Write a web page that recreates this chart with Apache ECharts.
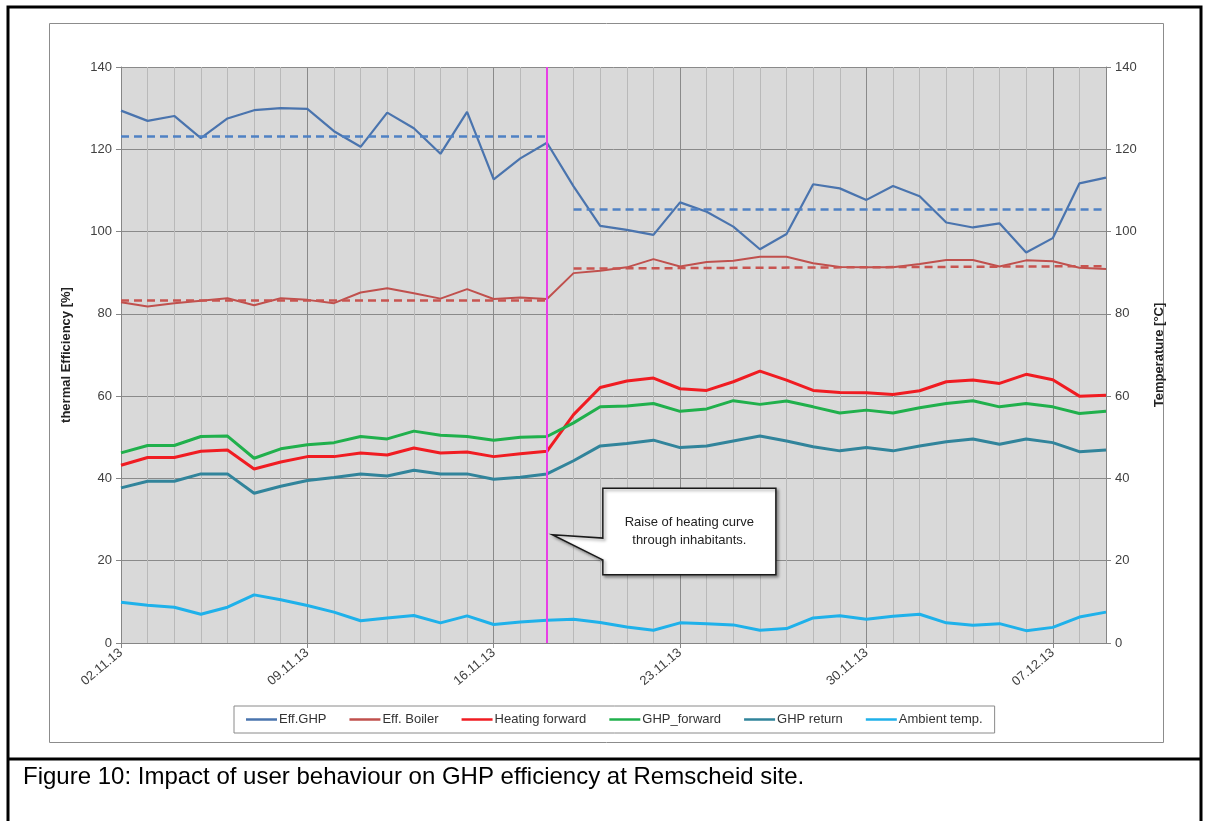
<!DOCTYPE html>
<html>
<head>
<meta charset="utf-8">
<title>GHP efficiency at Remscheid site</title>
<script src="https://cdn.jsdelivr.net/npm/echarts@6/dist/echarts.min.js"></script>
<style>
  html, body { margin: 0; padding: 0; background: #ffffff; }
  #chart { width: 1205px; height: 821px; }
</style>
</head>
<body>
<div id="chart"></div>
<script>
// Daily values, 02.11.13 - 09.12.13
const dates = [
  '02.11.13','03.11.13','04.11.13','05.11.13','06.11.13','07.11.13','08.11.13',
  '09.11.13','10.11.13','11.11.13','12.11.13','13.11.13','14.11.13','15.11.13',
  '16.11.13','17.11.13','18.11.13','19.11.13','20.11.13','21.11.13','22.11.13',
  '23.11.13','24.11.13','25.11.13','26.11.13','27.11.13','28.11.13','29.11.13',
  '30.11.13','01.12.13','02.12.13','03.12.13','04.12.13','05.12.13','06.12.13',
  '07.12.13','08.12.13','09.12.13'
];

// thermal efficiency [%]
const effGHP = [129.4,126.9,128.1,122.7,127.5,129.5,130.0,129.8,124.4,120.6,128.9,125.1,118.9,129.1,112.7,117.8,121.6,
  111.0,101.4,100.4,99.2,107.1,104.8,101.2,95.7,99.4,111.5,110.5,107.7,111.1,108.6,102.2,101.0,102.0,94.9,98.4,111.7,113.1];
const effBoiler = [82.8,81.8,82.6,83.2,83.8,82.1,83.8,83.4,82.6,85.2,86.2,85.0,83.7,86.0,83.6,84.0,83.6,
  89.9,90.5,91.3,93.3,91.5,92.6,92.9,93.9,93.9,92.3,91.4,91.3,91.3,92.1,93.1,93.1,91.5,93.0,92.8,91.2,90.9];

// temperatures [°C]
const heatingForward = [43.2,45.1,45.1,46.6,46.9,42.3,44.0,45.3,45.3,46.2,45.7,47.4,46.2,46.4,45.3,46.0,46.6,
  55.5,62.1,63.7,64.4,61.8,61.4,63.5,66.1,63.9,61.4,60.9,60.8,60.4,61.3,63.5,63.9,63.1,65.3,64.0,60.0,60.2];
const ghpForward = [46.2,48.0,48.0,50.2,50.3,44.9,47.2,48.2,48.7,50.2,49.6,51.5,50.5,50.2,49.3,50.0,50.2,
  53.5,57.4,57.6,58.2,56.3,56.9,58.9,58.0,58.8,57.4,55.9,56.6,55.9,57.2,58.2,58.9,57.4,58.2,57.4,55.8,56.3];
const ghpReturn = [37.7,39.3,39.3,41.1,41.1,36.4,38.1,39.5,40.2,41.1,40.6,42.0,41.1,41.1,39.8,40.3,41.1,
  44.3,47.9,48.5,49.3,47.5,47.9,49.1,50.3,49.1,47.7,46.7,47.5,46.7,47.9,48.9,49.6,48.3,49.6,48.7,46.5,46.9];
const ambientTemp = [9.9,9.2,8.7,7.0,8.7,11.7,10.5,9.1,7.5,5.4,6.1,6.7,4.9,6.6,4.5,5.1,5.5,
  5.8,5.0,3.9,3.1,4.9,4.7,4.4,3.1,3.5,6.1,6.6,5.8,6.5,7.0,4.9,4.3,4.7,3.0,3.8,6.3,7.5];

// period means (before / after the change), [start date, end date, start value, end value]
const ghpMeans = [['02.11.13','18.11.13',123.2,123.2], ['19.11.13','09.12.13',105.5,105.5]];
const boilerMeans = [['02.11.13','18.11.13',83.4,83.4], ['19.11.13','09.12.13',91.0,91.6]];
const changeDate = '18.11.13';

// axis ticks
const yTicks = { min: 0, max: 140, interval: 20 };

const FONT = "'Liberation Sans', Arial, sans-serif";
const chart = echarts.init(document.getElementById('chart'), null, { renderer: 'canvas' });

function meanSegments(list, color) {
  return list.map(([d0, d1, v0, v1]) => [
    { coord: [d0, v0], lineStyle: { color: color, type: [8, 5], width: 2.5 } },
    { coord: [d1, v1], lineStyle: { color: color, type: [8, 5], width: 2.5 } }
  ]);
}

function lineSeries(name, data, color, width, axis) {
  return {
    name: name, type: 'line', data: data, yAxisIndex: axis,
    symbol: 'none', smooth: false, z: 3,
    lineStyle: { color: color, width: width },
    itemStyle: { color: color },
    emphasis: { disabled: true }
  };
}

const minor = '#b9b9b9', major = '#8a8a8a';
const legendNames = ['Eff.GHP', 'Eff. Boiler', 'Heating forward', 'GHP_forward', 'GHP return', 'Ambient temp.'];

const option = {
  animation: false,
  backgroundColor: '#ffffff',
  textStyle: { fontFamily: FONT },
  grid: { left: 121, right: 99, top: 67, bottom: 178, show: true, backgroundColor: '#d9d9d9', borderWidth: 0 },
  legend: {
    data: legendNames.map(n => ({ name: n, icon: 'rect' })),
    left: 234, top: 706,
    padding: [7, 12],
    itemWidth: 31, itemHeight: 2.5, itemGap: 23,
    borderColor: '#8a8a8a', borderWidth: 1, backgroundColor: '#ffffff',
    textStyle: { fontFamily: FONT, fontSize: 13, color: '#333333', padding: [0, 0, 0, -3] },
    selectedMode: false
  },
  xAxis: {
    type: 'category', data: dates, boundaryGap: false,
    axisLine: { lineStyle: { color: '#868686', width: 1 } },
    axisTick: { show: true, interval: 6, length: 5, lineStyle: { color: '#868686' } },
    axisLabel: { interval: 6, rotate: 40, margin: 8, fontSize: 13, color: '#404040', fontFamily: FONT },
    splitLine: { show: true, interval: 0, lineStyle: { color: [major, minor, minor, minor, minor, minor, minor], width: 1 } }
  },
  yAxis: [
    {
      type: 'value', min: yTicks.min, max: yTicks.max, interval: yTicks.interval,
      name: 'thermal Efficiency [%]', nameLocation: 'middle', nameGap: 48, nameRotate: 90,
      nameTextStyle: { fontFamily: FONT, fontSize: 13, fontWeight: 'bold', color: '#222222' },
      axisLine: { show: true, lineStyle: { color: '#868686' } },
      axisTick: { show: true, length: 5, lineStyle: { color: '#868686' } },
      axisLabel: { fontSize: 13, color: '#404040', margin: 9, fontFamily: FONT },
      splitLine: { show: true, lineStyle: { color: major, width: 1 } }
    },
    {
      type: 'value', min: yTicks.min, max: yTicks.max, interval: yTicks.interval, position: 'right',
      name: 'Temperature [°C]', nameLocation: 'middle', nameGap: 47, nameRotate: 90,
      nameTextStyle: { fontFamily: FONT, fontSize: 13, fontWeight: 'bold', color: '#222222' },
      axisLine: { show: true, lineStyle: { color: '#868686' } },
      axisTick: { show: true, length: 5, lineStyle: { color: '#868686' } },
      axisLabel: { fontSize: 13, color: '#404040', margin: 9, fontFamily: FONT },
      splitLine: { show: false }
    }
  ],
  series: [
    Object.assign(lineSeries('Eff.GHP', effGHP, '#4a74ae', 2.2, 0), {
      markLine: {
        silent: true, symbol: 'none', label: { show: false },
        data: [
          { xAxis: changeDate, lineStyle: { color: '#e83fe6', type: 'solid', width: 2 } }
        ].concat(meanSegments(ghpMeans, '#4f81c4'))
      }
    }),
    Object.assign(lineSeries('Eff. Boiler', effBoiler, '#c0504d', 2, 0), {
      markLine: {
        silent: true, symbol: 'none', label: { show: false },
        data: meanSegments(boilerMeans, '#c85450')
      }
    }),
    lineSeries('Heating forward', heatingForward, '#f01c22', 3, 1),
    lineSeries('GHP_forward', ghpForward, '#20b04c', 3, 1),
    lineSeries('GHP return', ghpReturn, '#31849b', 3, 1),
    lineSeries('Ambient temp.', ambientTemp, '#1fb1ea', 3, 1)
  ]
};

chart.setOption(option);

// Callout, placed in axis units (category index, value)
const callout = { tip: [16.2, 26.3], box: [18.1, 24.6, 37.6, 16.6], base: [25.5, 20.2] };
const calloutText = 'Raise of heating curve\nthrough inhabitants.';

const x0 = chart.convertToPixel({ xAxisIndex: 0 }, dates[0]);
const dx = chart.convertToPixel({ xAxisIndex: 0 }, dates[1]) - x0;
const px = i => x0 + dx * i;
const py = v => chart.convertToPixel({ yAxisIndex: 0 }, v);

const bx0 = px(callout.box[0]), bx1 = px(callout.box[1]);
const by0 = py(callout.box[2]), by1 = py(callout.box[3]);
const pts = [
  [bx0, by0], [bx1, by0], [bx1, by1], [bx0, by1],
  [bx0, py(callout.base[1])], [px(callout.tip[0]), py(callout.tip[1])], [bx0, py(callout.base[0])]
];

chart.setOption({
  graphic: [
    // page frame
    { type: 'rect', silent: true, shape: { x: 8, y: 7, width: 1193, height: 830 },
      style: { fill: 'none', stroke: '#000000', lineWidth: 3 }, z: 50 },
    { type: 'line', silent: true, shape: { x1: 8, y1: 759, x2: 1201, y2: 759 },
      style: { stroke: '#000000', lineWidth: 3 }, z: 50 },
    // chart area border
    { type: 'rect', silent: true, shape: { x: 49.5, y: 23.5, width: 1114, height: 719 },
      style: { fill: 'none', stroke: '#8c8c8c', lineWidth: 1 }, z: 0 },
    // caption
    { type: 'text', silent: true, left: 23, top: 765,
      style: { text: 'Figure 10: Impact of user behaviour on GHP efficiency at Remscheid site.',
               font: "24px " + FONT, fill: '#000000' }, z: 50 },
    // callout
    { type: 'polygon', silent: true, shape: { points: pts },
      style: { fill: '#ffffff', stroke: '#1a1a1a', lineWidth: 1.5,
               shadowBlur: 3, shadowOffsetX: 2, shadowOffsetY: 2, shadowColor: 'rgba(0,0,0,0.35)' }, z: 100 },
    { type: 'text', silent: true, x: (bx0 + bx1) / 2, y: (by0 + by1) / 2,
      style: { text: calloutText, font: "13px " + FONT, fill: '#222222',
               textAlign: 'center', textVerticalAlign: 'middle', lineHeight: 18 }, z: 101 }
  ]
});
</script>
</body>
</html>
